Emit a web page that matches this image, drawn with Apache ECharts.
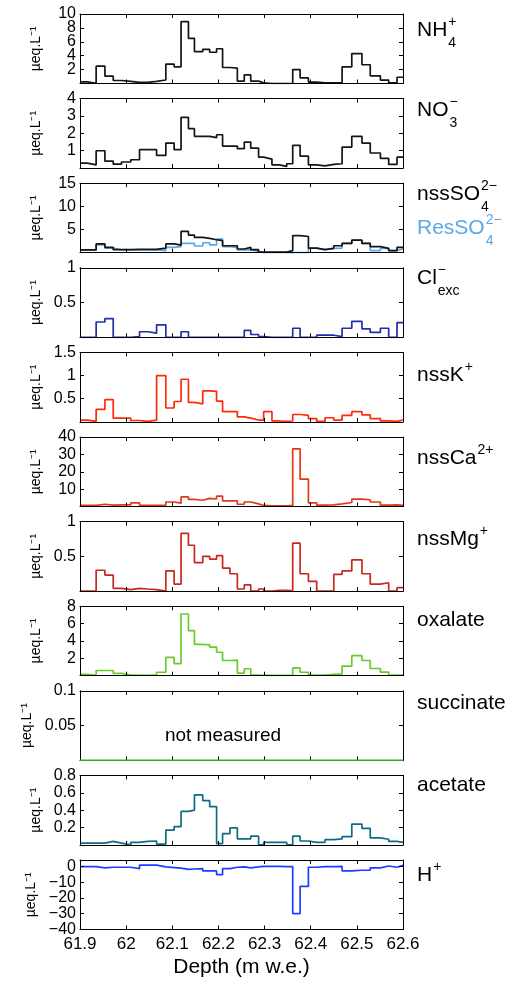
<!DOCTYPE html>
<html><head><meta charset="utf-8">
<script src="https://cdn.jsdelivr.net/npm/echarts@6.0.0/dist/echarts.min.js"></script>
<style>html,body{margin:0;padding:0;background:#fff}#c{width:511px;height:983px}</style>
</head><body><div id="c"></div>
<script>
// Depth bin edges (m w.e.)
const depthEdges = [61.900, 61.916, 61.935, 61.954, 61.972, 61.990, 62.010, 62.029, 62.047, 62.066,
  62.086, 62.104, 62.119, 62.135, 62.148, 62.166, 62.181, 62.196, 62.209, 62.225,
  62.241, 62.256, 62.270, 62.287, 62.298, 62.316, 62.332, 62.348, 62.361, 62.377,
  62.395, 62.413, 62.431, 62.450, 62.468, 62.489, 62.511, 62.529, 62.551, 62.569,
  62.587, 62.600];
// Concentrations per bin (µeq/L)
const nh4 = [0.24, 0.02, 2.5, 1.06, 0.43, 0.3, 0.15, 0.15, 0.3, 0.5, 2.8, 2.4, 8.9, 6.5, 4.6, 4.9, 4.5, 5.0, 2.3, 2.2, 0.34, 1.25, 0.34, 0.1, 0, 0, 0, 0, 2.0, 0.8, 0.2, 0.1, 0.1, 0.1, 2.4, 4.3, 2.7, 1.1, 0.5, 0.1, 0.9];
const no3 = [0.29, 0.19, 1.0, 0.4, 0.23, 0.35, 0.48, 1.06, 1.06, 0.73, 1.44, 1.06, 2.92, 2.27, 1.83, 1.83, 1.75, 1.92, 1.27, 1.27, 1.12, 1.5, 1.15, 0.63, 0.52, 0.19, 0.1, 0.25, 1.31, 0.69, 0.19, 0.13, 0.21, 0.25, 1.21, 1.83, 1.44, 0.87, 0.56, 0.21, 0.63];
const nssSO4 = [0.6, 0.6, 1.9, 1.15, 0.65, 0.65, 0.72, 0.72, 0.72, 1.0, 1.9, 1.65, 4.6, 3.8, 3.3, 3.1, 2.8, 2.6, 1.5, 1.5, 0.8, 1.15, 0.65, 0.15, 0.15, 0.15, 0.15, 0.45, 3.7, 3.5, 1.0, 0.65, 0.95, 1.5, 2.0, 2.7, 2.0, 1.3, 0.95, 0.45, 1.15];
const resSO4 = [0.6, 0.6, 1.7, 1.0, 0.6, 0.6, 0.6, 0.6, 0.6, 0.45, 1.15, 1.3, 2.0, 2.0, 1.45, 2.15, 1.7, 2.95, 1.3, 1.15, 0.6, 0.6, 0.3, 0, 0, 0, 0, 0, 0, 0, 1.0, 0.65, 0.95, 1.0, 2.0, 2.7, 2.0, 0.45, 0.95, 0.45, 0.8];
const clExc = [0, 0, 0.22, 0.27, 0, 0, 0.01, 0.08, 0.06, 0.18, 0, 0, 0.08, 0, 0, 0, 0, 0, 0, 0, 0, 0.1, 0.04, 0.01, 0, 0, 0, 0, 0.13, 0, 0, 0.03, 0.03, 0.01, 0.13, 0.23, 0.12, 0.07, 0.13, 0, 0.21];
const nssK = [0.04, 0.01, 0.27, 0.48, 0.08, 0.08, 0.03, 0.01, 0.04, 1.0, 0.3, 0.44, 0.92, 0.42, 0.39, 0.67, 0.66, 0.45, 0.22, 0.22, 0.11, 0.08, 0.04, 0.04, 0.22, 0.02, 0.01, 0.02, 0.16, 0.14, 0.07, 0.01, 0.09, 0.04, 0.14, 0.22, 0.15, 0.07, 0.02, 0.01, 0.04];
const nssCa = [0.6, 0.6, 1.3, 0.75, 0.9, 0.9, 2.1, 0.6, 0.6, 0.75, 2.6, 1.9, 5.5, 4.1, 3.6, 4.7, 4.3, 6.0, 3.2, 3.2, 1.3, 2.6, 1.5, 0.6, 0.4, 0.4, 0.4, 0.6, 33.2, 15.7, 2.1, 0.75, 0.9, 1.5, 2.3, 4.3, 3.9, 2.6, 0.75, 0.9, 0.6];
const nssMg = [0, 0, 0.3, 0.23, 0.04, 0.02, 0.04, 0.03, 0.02, 0, 0.29, 0.1, 0.83, 0.66, 0.41, 0.5, 0.46, 0.51, 0.33, 0.25, 0.03, 0.09, 0, 0.03, 0, 0.01, 0.01, 0.005, 0.69, 0.25, 0.14, 0, 0, 0.24, 0.29, 0.45, 0.25, 0.1, 0.12, 0, 0.05];
const oxalate = [0.15, 0.05, 0.6, 0.6, 0.26, 0.08, 0.08, 0.05, 0.1, 0.4, 2.1, 1.4, 7.1, 5.2, 3.6, 3.55, 3.3, 2.7, 1.75, 1.8, 0.3, 0.8, 0.07, 0.04, 0.04, 0.04, 0.04, 0.04, 0.9, 0.4, 0.07, 0.07, 0.15, 0.22, 1.1, 2.3, 1.75, 0.83, 0.42, 0.07, 0.07];
const succinate = [0, 0, 0, 0, 0, 0, 0, 0, 0, 0, 0, 0, 0, 0, 0, 0, 0, 0, 0, 0, 0, 0, 0, 0, 0, 0, 0, 0, 0, 0, 0, 0, 0, 0, 0, 0, 0, 0, 0, 0, 0];
const acetate = [0.02, 0.02, 0.02, 0.04, 0.02, 0, 0.03, 0.04, 0.045, 0.01, 0.17, 0.21, 0.385, 0.4, 0.575, 0.51, 0.44, 0.015, 0.13, 0.195, 0.07, 0.07, 0.1, 0, 0.03, 0.03, 0.03, 0, 0.1, 0.045, 0.03, 0.03, 0.06, 0.07, 0.095, 0.24, 0.19, 0.08, 0.065, 0.04, 0.03];
const hPlus = [-0.2, -0.2, -1.0, -0.6, -0.6, -0.6, -1.5, 0.8, 0.8, -0.4, -0.8, -1.2, -1.9, -1.7, -1.5, -2.9, -2.9, -5.2, -1.5, -0.6, -0.4, -1.0, -0.4, 0, 0, 0, -0.2, -0.2, -29.9, -12.7, -0.6, -0.2, -0.2, 0, -2.9, -2.5, -2.5, -1.0, 0.2, -0.6, 0.6];
// Axis settings
const depthMin = 61.9, depthMax = 62.6, depthStep = 0.1;
const xTitle = 'Depth (m w.e.)';
const yTitle = 'µeq.L⁻¹';
// tick labels drawn by a second (label-only) axis because they are densely packed
const nh4ExtraTicks = [4, 8];
const hPlusExtraTicks = [-30, -10];

const FONT = "'Liberation Sans', Arial, Helvetica, sans-serif";
const mctx = document.createElement('canvas').getContext('2d');
function tw(t, s){ mctx.font = s + 'px ' + FONT; return mctx.measureText(t).width; }

function stepData(vals){
  const d = vals.map((v,i)=>[depthEdges[i], v]);
  d.push([depthEdges[depthEdges.length-1], vals[vals.length-1]]);
  return d;
}

const panels = [
  {series:[{vals:nh4, color:'#151515'}], min:0, max:10, interval:2, extra:{interval:4, only:nh4ExtraTicks}},
  {series:[{vals:no3, color:'#151515'}], min:0, max:4, interval:1},
  {series:[{vals:resSO4, color:'#5aa8ea'},{vals:nssSO4, color:'#151515'}], min:0, max:15, interval:5},
  {series:[{vals:clExc, color:'#2030aa'}], min:0, max:1, interval:0.5},
  {series:[{vals:nssK, color:'#ff2a08'}], min:0, max:1.5, interval:0.5},
  {series:[{vals:nssCa, color:'#e2381a'}], min:0, max:40, interval:10},
  {series:[{vals:nssMg, color:'#c8281f'}], min:0, max:1, interval:0.5},
  {series:[{vals:oxalate, color:'#6acc28'}], min:0, max:8, interval:2},
  {series:[{vals:succinate, color:'#2fae2f'}], min:0, max:0.1, interval:0.05, lineOnTop:true},
  {series:[{vals:acetate, color:'#0f6a84'}], min:0, max:0.8, interval:0.2},
  {series:[{vals:hPlus, color:'#1e3cff'}], min:-40, max:4, interval:10, showMin:true, hideMax:true, extra:{interval:10, only:hPlusExtraTicks}}
];

const L = 80, R = 403, TOP0 = 14, STEP = 84.6, H = 69.5;
const grid = [], xAxis = [], yAxis = [], series = [];
const fmt = v => (+v.toFixed(3)).toString().replace('-', '\u2212');
const inList = (list, v) => list.some(o => Math.abs(o - v) < 1e-9);
const yLabelStyle = {margin:4, fontSize:16, color:'#000', fontFamily:FONT, hideOverlap:false};
panels.forEach((p, i) => {
  grid.push({left: L, width: R - L, top: TOP0 + i*STEP, height: H, show:false});
  const last = i === panels.length - 1;
  const common = {type:'value', gridIndex:i, min:depthMin, max:depthMax, interval:depthStep, z:3,
    splitLine:{show:false},
    axisLine:{show:true, onZero:false, lineStyle:{color:'#000', width:1}},
    axisTick:{show:true, inside:true, length:4, lineStyle:{color:'#000', width:1}}};
  xAxis.push(Object.assign({}, common, {position:'bottom',
    axisLabel:{show:last, margin:6, fontSize:17, color:'#000', fontFamily:FONT, formatter:fmt, hideOverlap:false},
    name: last ? xTitle : '', nameLocation:'middle', nameGap:27,
    nameTextStyle:{fontSize:21, color:'#000', fontFamily:FONT}}));
  xAxis.push(Object.assign({}, common, {position:'top', axisLabel:{show:false}}));
  const yc = {type:'value', gridIndex:i, min:p.min, max:p.max, interval:p.interval, z:3,
    splitLine:{show:false},
    axisLine:{show:true, onZero:false, lineStyle:{color:'#000', width:1}},
    axisTick:{show:true, inside:true, length:4, lineStyle:{color:'#000', width:1}}};
  const extraList = p.extra ? p.extra.only : [];
  const yIdx = yAxis.length;
  yAxis.push(Object.assign({}, yc, {position:'left',
    axisLabel:Object.assign({}, yLabelStyle, {formatter: v => inList(extraList, v) ? '' : fmt(v),
      showMinLabel: !!p.showMin, showMaxLabel: !p.hideMax}),
    name: yTitle, nameLocation:'middle', nameRotate:90, nameGap:37,
    nameTextStyle:{fontSize:14, color:'#000', fontFamily:FONT}}));
  yAxis.push(Object.assign({}, yc, {position:'right', axisLabel:{show:false}}));
  if (p.extra) {
    yAxis.push({type:'value', gridIndex:i, min:p.min, max:p.max, interval:p.extra.interval, z:3,
      position:'left', offset:0, splitLine:{show:false}, axisLine:{show:false}, axisTick:{show:false},
      axisLabel:Object.assign({}, yLabelStyle, {showMinLabel:false, showMaxLabel:false,
        formatter: v => inList(extraList, v) ? fmt(v) : ''})});
  }
  p.series.forEach(s => {
    series.push({type:'line', step:'end', xAxisIndex:2*i, yAxisIndex:yIdx, data:stepData(s.vals),
      showSymbol:false, symbol:'none', clip:true, z: p.lineOnTop ? 5 : 2,
      lineStyle:{color:s.color, width:1.7}, itemStyle:{color:s.color}});
  });
});

// right-hand labels
const graphic = [];
function lab(y, main, sup, sub, color){
  color = color || '#000';
  const x = 417, ms = 21, ss = 14;
  graphic.push({type:'text', x:x, y:y, style:{text:main, fontSize:ms, fontFamily:FONT, fill:color, align:'left', verticalAlign:'middle'}});
  const sx = x + tw(main, ms) + 1;
  if (sup) graphic.push({type:'text', x:sx, y:y-8, style:{text:sup, fontSize:ss, fontFamily:FONT, fill:color, align:'left', verticalAlign:'middle'}});
  if (sub) graphic.push({type:'text', x:sx, y:y+13, style:{text:sub, fontSize:ss, fontFamily:FONT, fill:color, align:'left', verticalAlign:'middle'}});
}
lab(30, 'NH', '+', '4');
lab(110.5, 'NO', '\u2212', '3');
lab(194.5, 'nssSO', '2\u2212', '4');
lab(228.5, 'ResSO', '2\u2212', '4', '#5aa8ea');
lab(278, 'Cl', '\u2212', 'exc');
lab(375.5, 'nssK', '+');
lab(458, 'nssCa', '2+');
lab(539, 'nssMg', '+');
lab(620, 'oxalate');
lab(703, 'succinate');
lab(785.5, 'acetate');
lab(875, 'H', '+');
graphic.push({type:'text', x:223, y:736, style:{text:'not measured', fontSize:19, fontFamily:FONT, fill:'#000', align:'center', verticalAlign:'middle'}});

const chart = echarts.init(document.getElementById('c'), null, {renderer:'canvas'});
chart.setOption({animation:false, backgroundColor:'#fff', grid, xAxis, yAxis, series, graphic});
</script></body></html>
